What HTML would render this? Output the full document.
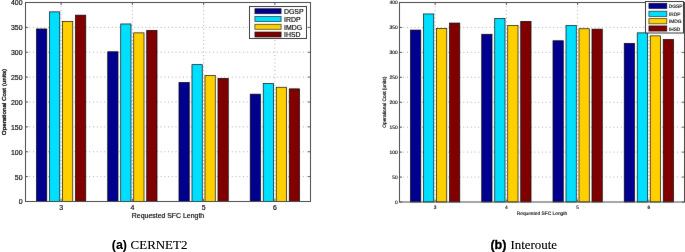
<!DOCTYPE html>
<html><head><meta charset="utf-8"><style>
html,body{margin:0;padding:0;background:#fff;}
svg{display:block;will-change:transform;}
</style></head><body>
<svg width="685" height="252" viewBox="0 0 685 252">
<defs><filter id="bl" x="0" y="0" width="685" height="252" filterUnits="userSpaceOnUse" color-interpolation-filters="sRGB"><feConvolveMatrix order="3" kernelMatrix="0.00276 0.04704 0.00276 0.04704 0.80077 0.04704 0.00276 0.04704 0.00276" edgeMode="duplicate" preserveAlpha="true"/></filter></defs>
<rect width="685" height="252" fill="#fff"/>
<g filter="url(#bl)">
<rect width="685" height="252" fill="#fff"/>
<g stroke="#9c9c9c" stroke-width="0.8" stroke-dasharray="1 2.75"><line x1="25.5" y1="176.62" x2="310.5" y2="176.62"/><line x1="25.5" y1="151.75" x2="310.5" y2="151.75"/><line x1="25.5" y1="126.88" x2="310.5" y2="126.88"/><line x1="25.5" y1="102.00" x2="310.5" y2="102.00"/><line x1="25.5" y1="77.12" x2="310.5" y2="77.12"/><line x1="25.5" y1="52.25" x2="310.5" y2="52.25"/><line x1="25.5" y1="27.38" x2="310.5" y2="27.38"/><line x1="61.12" y1="2.5" x2="61.12" y2="201.5"/><line x1="132.38" y1="2.5" x2="132.38" y2="201.5"/><line x1="203.62" y1="2.5" x2="203.62" y2="201.5"/><line x1="274.88" y1="2.5" x2="274.88" y2="201.5"/></g>
<g stroke="#000" stroke-opacity="0.95" stroke-width="0.7"><rect x="36.48" y="28.95" width="10.3" height="172.55" fill="#00008f"/><rect x="49.48" y="11.85" width="10.3" height="189.65" fill="#00dfff"/><rect x="62.48" y="21.35" width="10.3" height="180.15" fill="#ffcf00"/><rect x="75.47" y="15.15" width="10.3" height="186.35" fill="#800000"/><rect x="107.72" y="51.75" width="10.3" height="149.75" fill="#00008f"/><rect x="120.72" y="23.95" width="10.3" height="177.55" fill="#00dfff"/><rect x="133.72" y="32.85" width="10.3" height="168.65" fill="#ffcf00"/><rect x="146.72" y="30.35" width="10.3" height="171.15" fill="#800000"/><rect x="178.97" y="82.45" width="10.3" height="119.05" fill="#00008f"/><rect x="191.97" y="64.65" width="10.3" height="136.85" fill="#00dfff"/><rect x="204.97" y="75.55" width="10.3" height="125.95" fill="#ffcf00"/><rect x="217.97" y="78.35" width="10.3" height="123.15" fill="#800000"/><rect x="250.22" y="94.15" width="10.3" height="107.35" fill="#00008f"/><rect x="263.23" y="83.45" width="10.3" height="118.05" fill="#00dfff"/><rect x="276.23" y="87.25" width="10.3" height="114.25" fill="#ffcf00"/><rect x="289.23" y="88.85" width="10.3" height="112.65" fill="#800000"/></g>
<g stroke="#333" stroke-width="0.8"><line x1="25.5" y1="201.50" x2="28.0" y2="201.50"/><line x1="310.5" y1="201.50" x2="308.0" y2="201.50"/><line x1="25.5" y1="176.62" x2="28.0" y2="176.62"/><line x1="310.5" y1="176.62" x2="308.0" y2="176.62"/><line x1="25.5" y1="151.75" x2="28.0" y2="151.75"/><line x1="310.5" y1="151.75" x2="308.0" y2="151.75"/><line x1="25.5" y1="126.88" x2="28.0" y2="126.88"/><line x1="310.5" y1="126.88" x2="308.0" y2="126.88"/><line x1="25.5" y1="102.00" x2="28.0" y2="102.00"/><line x1="310.5" y1="102.00" x2="308.0" y2="102.00"/><line x1="25.5" y1="77.12" x2="28.0" y2="77.12"/><line x1="310.5" y1="77.12" x2="308.0" y2="77.12"/><line x1="25.5" y1="52.25" x2="28.0" y2="52.25"/><line x1="310.5" y1="52.25" x2="308.0" y2="52.25"/><line x1="25.5" y1="27.38" x2="28.0" y2="27.38"/><line x1="310.5" y1="27.38" x2="308.0" y2="27.38"/><line x1="25.5" y1="2.50" x2="28.0" y2="2.50"/><line x1="310.5" y1="2.50" x2="308.0" y2="2.50"/><line x1="61.12" y1="201.5" x2="61.12" y2="199.0"/><line x1="61.12" y1="2.5" x2="61.12" y2="5.0"/><line x1="132.38" y1="201.5" x2="132.38" y2="199.0"/><line x1="132.38" y1="2.5" x2="132.38" y2="5.0"/><line x1="203.62" y1="201.5" x2="203.62" y2="199.0"/><line x1="203.62" y1="2.5" x2="203.62" y2="5.0"/><line x1="274.88" y1="201.5" x2="274.88" y2="199.0"/><line x1="274.88" y1="2.5" x2="274.88" y2="5.0"/></g>
<rect x="25.5" y="2.5" width="285.0" height="199.0" fill="none" stroke="#4a4a4a" stroke-width="1"/>
<rect x="249.5" y="6.5" width="57.0" height="32.0" fill="#fff" stroke="#3a3a3a" stroke-width="1"/><rect x="254.9" y="8.700000000000001" width="26.2" height="5.0" fill="#00008f" stroke="#000" stroke-opacity="0.7" stroke-width="0.8"/><rect x="254.9" y="16.5" width="26.2" height="5.0" fill="#00dfff" stroke="#000" stroke-opacity="0.7" stroke-width="0.8"/><rect x="254.9" y="24.299999999999997" width="26.2" height="5.0" fill="#ffcf00" stroke="#000" stroke-opacity="0.7" stroke-width="0.8"/><rect x="254.9" y="32.0" width="26.2" height="5.0" fill="#800000" stroke="#000" stroke-opacity="0.7" stroke-width="0.8"/>
<g font-family="Liberation Sans" font-size="6.3" fill="#000" stroke="#000" stroke-linejoin="round" stroke-width="0.15"><text transform="translate(22.50,204.43) scale(1.1,1.0)" text-anchor="end">0</text><text transform="translate(22.50,179.56) scale(1.1,1.0)" text-anchor="end">50</text><text transform="translate(22.50,154.68) scale(1.1,1.0)" text-anchor="end">100</text><text transform="translate(22.50,129.81) scale(1.1,1.0)" text-anchor="end">150</text><text transform="translate(22.50,104.93) scale(1.1,1.0)" text-anchor="end">200</text><text transform="translate(22.50,80.06) scale(1.1,1.0)" text-anchor="end">250</text><text transform="translate(22.50,55.18) scale(1.1,1.0)" text-anchor="end">300</text><text transform="translate(22.50,30.31) scale(1.1,1.0)" text-anchor="end">350</text><text transform="translate(22.50,5.43) scale(1.1,1.0)" text-anchor="end">400</text><text transform="translate(61.12,209.80) scale(1.1,1.0)" text-anchor="middle">3</text><text transform="translate(132.38,209.80) scale(1.1,1.0)" text-anchor="middle">4</text><text transform="translate(203.62,209.80) scale(1.1,1.0)" text-anchor="middle">5</text><text transform="translate(274.88,209.80) scale(1.1,1.0)" text-anchor="middle">6</text><text transform="translate(168.00,218.00) scale(1.1,1.0)" text-anchor="middle">Requested SFC Length</text><text transform="translate(5.60,102.00) rotate(-90) scale(1,0.98)" text-anchor="middle" stroke-width="0.3">Operational Cost (units)</text><text transform="translate(284,13.93) scale(1.1,1.0)" font-size="6.3">DGSP</text><text transform="translate(284,21.73) scale(1.1,1.0)" font-size="6.3">IRDP</text><text transform="translate(284,29.53) scale(1.1,1.0)" font-size="6.3">IMDG</text><text transform="translate(284,37.23) scale(1.1,1.0)" font-size="6.3">IHSD</text></g>
<g stroke="#9c9c9c" stroke-width="0.8" stroke-dasharray="1 2.75"><line x1="399.5" y1="177.06" x2="684.5" y2="177.06"/><line x1="399.5" y1="152.12" x2="684.5" y2="152.12"/><line x1="399.5" y1="127.19" x2="684.5" y2="127.19"/><line x1="399.5" y1="102.25" x2="684.5" y2="102.25"/><line x1="399.5" y1="77.31" x2="684.5" y2="77.31"/><line x1="399.5" y1="52.38" x2="684.5" y2="52.38"/><line x1="399.5" y1="27.44" x2="684.5" y2="27.44"/><line x1="435.12" y1="2.5" x2="435.12" y2="202.0"/><line x1="506.38" y1="2.5" x2="506.38" y2="202.0"/><line x1="577.62" y1="2.5" x2="577.62" y2="202.0"/><line x1="648.88" y1="2.5" x2="648.88" y2="202.0"/></g>
<g stroke="#000" stroke-opacity="0.95" stroke-width="0.7"><rect x="410.48" y="30.05" width="10.3" height="171.95" fill="#00008f"/><rect x="423.48" y="13.95" width="10.3" height="188.05" fill="#00dfff"/><rect x="436.48" y="28.35" width="10.3" height="173.65" fill="#ffcf00"/><rect x="449.48" y="23.05" width="10.3" height="178.95" fill="#800000"/><rect x="481.73" y="34.25" width="10.3" height="167.75" fill="#00008f"/><rect x="494.73" y="18.45" width="10.3" height="183.55" fill="#00dfff"/><rect x="507.73" y="25.55" width="10.3" height="176.45" fill="#ffcf00"/><rect x="520.73" y="21.35" width="10.3" height="180.65" fill="#800000"/><rect x="552.98" y="40.75" width="10.3" height="161.25" fill="#00008f"/><rect x="565.98" y="25.55" width="10.3" height="176.45" fill="#00dfff"/><rect x="578.98" y="28.75" width="10.3" height="173.25" fill="#ffcf00"/><rect x="591.98" y="29.15" width="10.3" height="172.85" fill="#800000"/><rect x="624.23" y="43.35" width="10.3" height="158.65" fill="#00008f"/><rect x="637.23" y="32.85" width="10.3" height="169.15" fill="#00dfff"/><rect x="650.23" y="35.85" width="10.3" height="166.15" fill="#ffcf00"/><rect x="663.23" y="39.45" width="10.3" height="162.55" fill="#800000"/></g>
<g stroke="#333" stroke-width="0.8"><line x1="399.5" y1="202.00" x2="402.0" y2="202.00"/><line x1="684.5" y1="202.00" x2="682.0" y2="202.00"/><line x1="399.5" y1="177.06" x2="402.0" y2="177.06"/><line x1="684.5" y1="177.06" x2="682.0" y2="177.06"/><line x1="399.5" y1="152.12" x2="402.0" y2="152.12"/><line x1="684.5" y1="152.12" x2="682.0" y2="152.12"/><line x1="399.5" y1="127.19" x2="402.0" y2="127.19"/><line x1="684.5" y1="127.19" x2="682.0" y2="127.19"/><line x1="399.5" y1="102.25" x2="402.0" y2="102.25"/><line x1="684.5" y1="102.25" x2="682.0" y2="102.25"/><line x1="399.5" y1="77.31" x2="402.0" y2="77.31"/><line x1="684.5" y1="77.31" x2="682.0" y2="77.31"/><line x1="399.5" y1="52.38" x2="402.0" y2="52.38"/><line x1="684.5" y1="52.38" x2="682.0" y2="52.38"/><line x1="399.5" y1="27.44" x2="402.0" y2="27.44"/><line x1="684.5" y1="27.44" x2="682.0" y2="27.44"/><line x1="399.5" y1="2.50" x2="402.0" y2="2.50"/><line x1="684.5" y1="2.50" x2="682.0" y2="2.50"/><line x1="435.12" y1="202.0" x2="435.12" y2="199.5"/><line x1="435.12" y1="2.5" x2="435.12" y2="5.0"/><line x1="506.38" y1="202.0" x2="506.38" y2="199.5"/><line x1="506.38" y1="2.5" x2="506.38" y2="5.0"/><line x1="577.62" y1="202.0" x2="577.62" y2="199.5"/><line x1="577.62" y1="2.5" x2="577.62" y2="5.0"/><line x1="648.88" y1="202.0" x2="648.88" y2="199.5"/><line x1="648.88" y1="2.5" x2="648.88" y2="5.0"/></g>
<rect x="399.5" y="2.5" width="285.0" height="199.5" fill="none" stroke="#4a4a4a" stroke-width="1"/>
<rect x="645.5" y="1.5" width="38.0" height="31.5" fill="#fff" stroke="#3a3a3a" stroke-width="1"/><rect x="648.9" y="3.3" width="17.900000000000045" height="5.2" fill="#00008f" stroke="#000" stroke-opacity="0.7" stroke-width="0.8"/><rect x="648.9" y="11.200000000000001" width="17.900000000000045" height="5.2" fill="#00dfff" stroke="#000" stroke-opacity="0.7" stroke-width="0.8"/><rect x="648.9" y="18.599999999999998" width="17.900000000000045" height="5.2" fill="#ffcf00" stroke="#000" stroke-opacity="0.7" stroke-width="0.8"/><rect x="648.9" y="25.9" width="17.900000000000045" height="5.2" fill="#800000" stroke="#000" stroke-opacity="0.7" stroke-width="0.8"/>
<g font-family="Liberation Sans" font-size="4.85" fill="#000" stroke="#000" stroke-linejoin="round" stroke-width="0.12" text-rendering="geometricPrecision"><text transform="translate(397.60,203.92) scale(1.0,1.0)" text-anchor="end">0</text><text transform="translate(397.60,178.98) scale(1.0,1.0)" text-anchor="end">50</text><text transform="translate(397.60,154.04) scale(1.0,1.0)" text-anchor="end">100</text><text transform="translate(397.60,129.10) scale(1.0,1.0)" text-anchor="end">150</text><text transform="translate(397.60,104.17) scale(1.0,1.0)" text-anchor="end">200</text><text transform="translate(397.60,79.23) scale(1.0,1.0)" text-anchor="end">250</text><text transform="translate(397.60,54.29) scale(1.0,1.0)" text-anchor="end">300</text><text transform="translate(397.60,29.35) scale(1.0,1.0)" text-anchor="end">350</text><text transform="translate(397.60,4.42) scale(1.0,1.0)" text-anchor="end">400</text><text transform="translate(435.12,208.70) scale(1.0,1.0)" text-anchor="middle">3</text><text transform="translate(506.38,208.70) scale(1.0,1.0)" text-anchor="middle">4</text><text transform="translate(577.62,208.70) scale(1.0,1.0)" text-anchor="middle">5</text><text transform="translate(648.88,208.70) scale(1.0,1.0)" text-anchor="middle">6</text><text transform="translate(542.00,215.10) scale(1.0,1.0)" text-anchor="middle">Requested SFC Length</text><text transform="translate(385.80,102.25) rotate(-90) scale(1,1.0)" text-anchor="middle" stroke-width="0.18">Operational Cost (units)</text><text transform="translate(668.8,8.12) scale(1.0,1.0)" font-size="4.85">DGSP</text><text transform="translate(668.8,16.02) scale(1.0,1.0)" font-size="4.85">IRDP</text><text transform="translate(668.8,23.42) scale(1.0,1.0)" font-size="4.85">IMDG</text><text transform="translate(668.8,30.72) scale(1.0,1.0)" font-size="4.85">IHSD</text></g>
</g>
<g fill="#000" stroke="#000" stroke-linejoin="round">
<text x="111.8" y="248.7" font-family="Liberation Sans" font-weight="bold" font-size="12.4" stroke-width="0.1">(a)</text>
<text x="130.6" y="248.8" font-family="Liberation Serif" font-size="12.95" stroke-width="0.12">CERNET2</text>
<text x="490.4" y="248.7" font-family="Liberation Sans" font-weight="bold" font-size="12.6" stroke-width="0.3">(b)</text>
<text x="510.4" y="248.8" font-family="Liberation Serif" font-size="12.95" stroke-width="0.12">Interoute</text>
</g>
</svg>
</body></html>
